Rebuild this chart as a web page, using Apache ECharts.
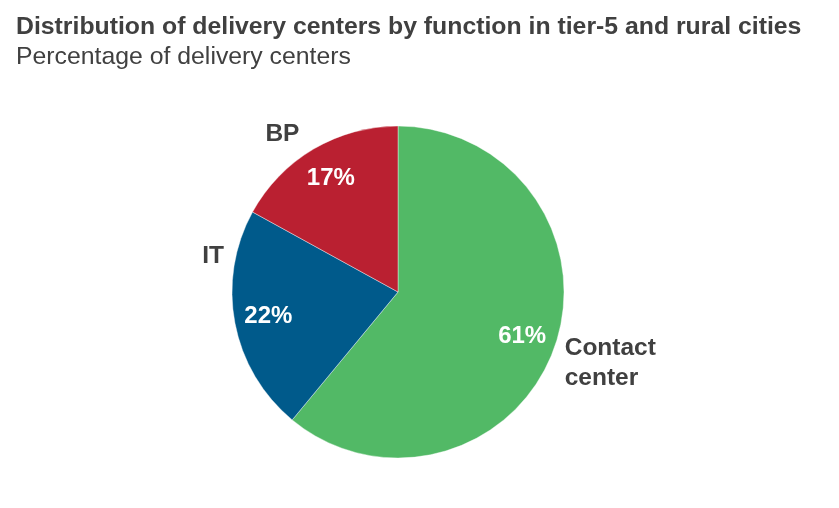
<!DOCTYPE html>
<html>
<head>
<meta charset="utf-8">
<script src="https://cdn.jsdelivr.net/npm/echarts@6/dist/echarts.min.js"></script>
<style>
html, body { margin: 0; padding: 0; background: #fff; }
#main { width: 839px; height: 508px; }
</style>
</head>
<body>
<div id="main"></div>
<script>
// function categories, clockwise from 12 o'clock
var categories = ['Contact\ncenter', 'IT', 'BP'];
var shares = [61, 22, 17];
var colors = ['#52b966', '#005a8b', '#ba2031'];

// label nudges so category names sit where the original has them
var nameNudge = [[-8, 12], [8, -68], [1, -8]];

var pieData = categories.map(function (name, i) {
    return { name: name, value: shares[i], itemStyle: { color: colors[i] } };
});

var chart = echarts.init(document.getElementById('main'), null, { renderer: 'canvas' });

var center = [398, 292];
var option = {
    animation: false,
    title: {
        text: 'Distribution of delivery centers by function in tier-5 and rural cities',
        subtext: 'Percentage of delivery centers',
        left: 11,
        top: 10,
        itemGap: 5,
        textStyle: {
            fontFamily: 'Liberation Sans',
            fontSize: 24.8,
            fontWeight: 'bold',
            color: '#404040'
        },
        subtextStyle: {
            fontFamily: 'Liberation Sans',
            fontSize: 24.8,
            color: '#404040'
        }
    },
    series: [
        {
            // the pie itself, with category names outside
            type: 'pie',
            center: center,
            radius: [0, 166],
            startAngle: 90,
            clockwise: true,
            silent: true,
            itemStyle: { borderColor: '#ffffff', borderWidth: 0.4 },
            label: {
                show: true,
                position: 'outside',
                formatter: '{b}',
                fontFamily: 'Liberation Sans',
                fontSize: 24.5,
                fontWeight: 'bold',
                color: '#404040',
                lineHeight: 30,
                align: 'left'
            },
            labelLine: { show: false, length: 8, length2: 6 },
            labelLayout: function (params) {
                var n = nameNudge[params.dataIndex] || [0, 0];
                return { dx: n[0], dy: n[1] };
            },
            data: pieData
        },
        {
            // transparent ring only to carry the percentage labels
            type: 'pie',
            center: center,
            radius: [92, 166],
            startAngle: 90,
            clockwise: true,
            silent: true,
            itemStyle: { color: 'rgba(0,0,0,0)' },
            label: {
                show: true,
                position: 'inside',
                formatter: '{c}%',
                fontFamily: 'Liberation Sans',
                fontSize: 24,
                fontWeight: 'bold',
                color: '#ffffff'
            },
            labelLine: { show: false },
            data: shares.map(function (v, i) { return { name: categories[i], value: v }; })
        }
    ]
};

chart.setOption(option);
</script>
</body>
</html>
